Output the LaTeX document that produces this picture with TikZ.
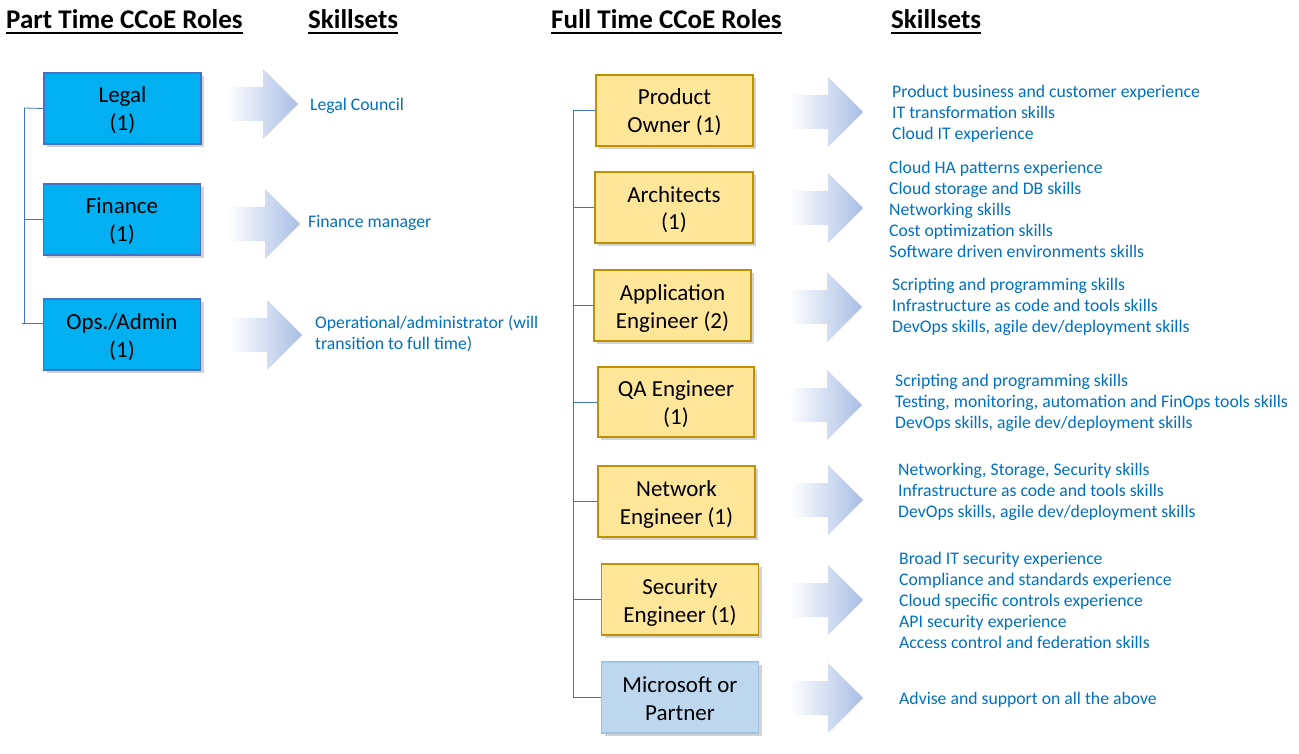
\documentclass[tikz,border=0pt]{standalone}
\usepackage{fontspec}
\setmainfont{Carlito}
\usetikzlibrary{shadows,calc}
\definecolor{skill}{HTML}{0070C0}
\definecolor{ptfill}{HTML}{00B0F0}
\definecolor{ptdraw}{HTML}{4472C4}
\definecolor{ftfill}{HTML}{FFE699}
\definecolor{ftdraw}{HTML}{BF9000}
\definecolor{msfill}{HTML}{BDD7EE}
\definecolor{msdraw}{HTML}{9DC3E6}
\definecolor{arrowblue}{HTML}{A9BEE4}
\definecolor{linkblue}{HTML}{4472C4}
\newcommand\bxtop{\rule{0pt}{23pt}}
\newcommand\bxbot{\rule[-6pt]{0pt}{6pt}}
\newcommand\fatarrow[2]{%
  \shade[left color=white, right color=arrowblue]
    (#1,#2-17) -- (#1+38,#2-17) -- (#1+38,#2-35) -- (#1+73,#2)
    -- (#1+38,#2+35) -- (#1+38,#2+17) -- (#1,#2+17) -- cycle;}
\begin{document}
\begin{tikzpicture}[x=1pt,y=-1pt,
  rolebox/.style={draw, line width=1.2pt, minimum width=157pt, minimum height=71pt,
    align=center, inner sep=0pt, font=\fontsize{23}{28}\selectfont,
    drop shadow={opacity=0.35, shadow xshift=3pt, shadow yshift=-3pt}},
  ptbox/.style={rolebox, fill=ptfill, draw=ptdraw},
  ftbox/.style={rolebox, fill=ftfill, draw=ftdraw},
  msbox/.style={rolebox, fill=msfill, draw=msdraw},
  skilltext/.style={anchor=west, align=left, text=skill, inner sep=0pt,
    font=\fontsize{17.7}{21}\selectfont},
  header/.style={anchor=base west, inner sep=0pt, font=\fontsize{27}{32}\selectfont\bfseries},
  hline/.style={line width=2pt},
  link/.style={draw=linkblue, line width=0.8pt}
]
\useasboundingbox (0,0) rectangle (1299,754);

% headers
\node[header] (h1) at (6,29) {Part Time CCoE Roles};
\node[header] (h2) at (308,29) {Skillsets};
\node[header] (h3) at (551,29) {Full Time CCoE Roles};
\node[header] (h4) at (891,29) {Skillsets};
\foreach \h in {h1,h2,h3,h4}
  \draw[hline] ($(\h.base west)+(0,4.5)$) -- ($(\h.base east)+(0,4.5)$);

% arrows
\fatarrow{225}{104}
\fatarrow{227}{224}
\fatarrow{229}{335}
\fatarrow{790}{112}
\fatarrow{790}{208}
\fatarrow{789}{307}
\fatarrow{789}{405}
\fatarrow{790}{500}
\fatarrow{790}{600}
\fatarrow{790}{698}

% part time boxes
\node[ptbox] (legal) at (122.5,108.5) {\bxtop Legal\\(1)\bxbot};
\node[ptbox] (fin) at (122,219.5) {\bxtop Finance\\(1)\bxbot};
\node[ptbox] (ops) at (122,334.5) {\bxtop Ops./Admin\\(1)\bxbot};

% full time boxes
\node[ftbox] (po) at (674.5,110.5) {\bxtop Product\\Owner (1)\bxbot};
\node[ftbox, minimum width=158pt] (arch) at (674,207.5) {\bxtop Architects\\(1)\bxbot};
\node[ftbox] (app) at (672.5,305.5) {\bxtop Application\\Engineer (2)\bxbot};
\node[ftbox, minimum width=156pt, minimum height=70pt] (qa) at (676,402) {\bxtop QA Engineer\\(1)\bxbot};
\node[ftbox] (net) at (676.5,501.5) {\bxtop Network\\Engineer (1)\bxbot};
\node[ftbox] (sec) at (680,599.5) {\bxtop Security\\Engineer (1)\bxbot};
\node[msbox] (ms) at (680,697.5) {\bxtop Microsoft or\\Partner\bxbot};

% left tree
\coordinate (ltop) at (24,108);
\coordinate (lbot) at (24,323);
\coordinate (lops) at (ops.west |- 0,323);
\draw[link] (ltop) -- (lbot);
\draw[link] (ltop) -- (legal.west);
\draw[link] (24,219.5) -- (fin.west);
\draw[link] ($(lbot)+(-2,0)$) -- (lops);

% right tree
\coordinate (rtop) at (573,110.5);
\coordinate (rbot) at (573,697.5);
\draw[link] (rtop) -- (rbot);
\foreach \b in {po,arch,app,qa,net,sec,ms}
  \draw[link] (\b.west) -- (573,0 |- \b.west);

% skills left
\node[skilltext] (s1) at (310,106) {Legal Council};
\node[skilltext] (s2) at (308,223) {Finance manager};
\node[skilltext] (s3) at (315,333.5) {Operational/administrator (will\\transition to full time)};

% skills right
\node[skilltext] (r1) at (892,114) {Product business and customer experience\\IT transformation skills\\Cloud IT experience};
\node[skilltext] (r2) at (889,209) {Cloud HA patterns experience\\Cloud storage and DB skills\\Networking skills\\Cost optimization skills\\Software driven environments skills};
\node[skilltext] (r3) at (892,307) {Scripting and programming skills\\Infrastructure as code and tools skills\\DevOps skills, agile dev/deployment skills};
\node[skilltext] (r4) at (895,403) {Scripting and programming skills\\Testing, monitoring, automation and FinOps tools skills\\DevOps skills, agile dev/deployment skills};
\node[skilltext] (r5) at (898,492) {Networking, Storage, Security skills\\Infrastructure as code and tools skills\\DevOps skills, agile dev/deployment skills};
\node[skilltext] (r6) at (899,600) {Broad IT security experience\\Compliance and standards experience\\Cloud specific controls experience\\API security experience\\Access control and federation skills};
\node[skilltext] (r7) at (899,700) {Advise and support on all the above};
\end{tikzpicture}
\end{document}
